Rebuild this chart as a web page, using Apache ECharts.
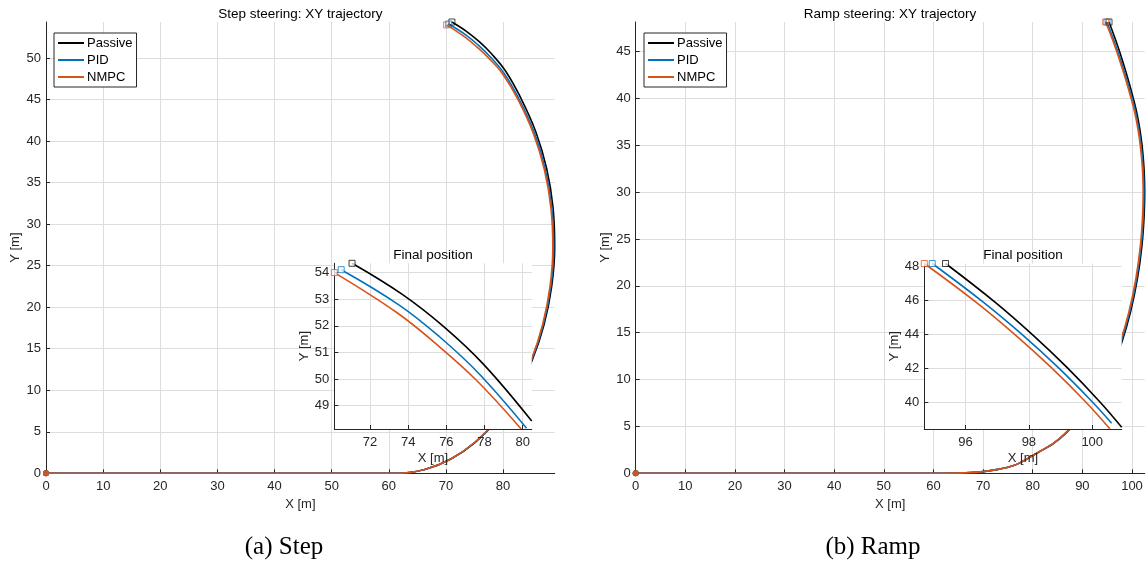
<!DOCTYPE html>
<html>
<head>
<meta charset="utf-8">
<script src="https://cdn.jsdelivr.net/npm/echarts@6/dist/echarts.min.js"></script>
<style>
  html, body { margin: 0; padding: 0; background: #fff; }
  #chart { width: 1148px; height: 565px; }
</style>
</head>
<body>
<div id="chart"></div>
<script>
// Vehicle trajectories, points are [X m, Y m]

// Step steering manoeuvre
const stepPassive = [
  [0,0],[30,0],[61.6,0],[66.31,0.46],[70.88,1.72],[75.15,3.73],[79.02,6.44],[82.37,9.77],
  [85.11,13.62],[87.18,17.89],[88.51,22.45],[89.05,27.2],[88.76,31.99],[87.65,36.68],
  [85.74,41.14],[83.09,45.23],
  [80.47,48.42],[77.95,50.55],[75.89,51.95],[73.71,53.17],[71.06,54.35]
];
const stepPID = [
  [0,0],[30,0],[61.6,0],[66.31,0.46],[70.87,1.73],[75.14,3.75],[78.99,6.47],[82.33,9.81],
  [85.03,13.67],[87.06,17.94],[88.37,22.48],[88.88,27.2],[88.55,31.95],[87.41,36.6],
  [85.5,41.0],[82.84,45.02],
  [80.2,48.15],[77.71,50.2],[75.67,51.57],[73.53,52.78],[70.49,54.11]
];
const stepNMPC = [
  [0,0],[30,0],[61.6,0],[66.31,0.46],[70.87,1.73],[75.13,3.77],[78.97,6.5],[82.27,9.85],
  [84.96,13.71],[86.95,17.97],[88.23,22.51],[88.72,27.2],[88.39,31.92],[87.25,36.54],
  [85.33,40.9],[82.7,44.91],
  [79.92,48.12],[77.55,49.97],[75.51,51.29],[73.4,52.5],[70.13,54.0]
];

// Ramp steering manoeuvre
const rampPassive = [
  [0,0],[30,0],[55,0],[62,0.01],[66,0.05],[70,0.18],[73,0.42],[76,0.8],[78,1.28],[80,1.9],
  [82,2.5],[84,3.12],[85.1,3.55],[86.3,4.1],[87.5,4.73],[90.57,6.49],[93.32,8.61],[95.77,11.08],
  [97.9,13.9],[99.71,17.22],[101.07,20.68],[102.0,24.27],[102.44,27.42],[102.56,30.07],
  [102.43,32.46],[102.06,34.83],[101.56,36.77],
  [100.93,38.56],[100.23,40.07],[99.21,42.05],[98.12,43.97],[96.95,45.86],[95.37,48.15]
];
const rampPID = [
  [0,0],[30,0],[55,0],[62,0.01],[66,0.05],[70,0.18],[73,0.42],[76,0.8],[78,1.28],[80,1.9],
  [82,2.5],[84,3.13],[85.1,3.57],[86.3,4.13],[87.5,4.77],[90.5,6.53],[93.22,8.66],[95.64,11.13],
  [97.75,13.95],[99.55,17.25],[100.91,20.7],[101.84,24.28],[102.28,27.43],[102.4,30.07],
  [102.26,32.46],[101.87,34.83],[101.36,36.77],
  [100.61,38.8],[99.99,40.07],[98.93,42.05],[97.8,43.97],[96.58,45.86],[94.95,48.15]
];
const rampNMPC = [
  [0,0],[30,0],[55,0],[62,0.01],[66,0.05],[70,0.18],[73,0.42],[76,0.8],[78,1.28],[80,1.9],
  [82,2.51],[84,3.14],[85.1,3.6],[86.3,4.16],[87.5,4.81],[90.43,6.58],[93.12,8.72],[95.5,11.2],
  [97.6,14.0],[99.4,17.28],[100.76,20.72],[101.69,24.3],[102.13,27.44],[102.25,30.07],
  [102.1,32.46],[101.7,34.83],[101.18,36.77],
  [100.56,38.46],[99.78,40.07],[98.71,42.05],[97.57,43.97],[96.35,45.86],[94.70,48.15]
];

// Number of final samples shown in the "Final position" close-ups
const stepInsetSamples = 5;
const rampInsetSamples = 6;

const seriesNames = ['Passive', 'PID', 'NMPC'];
const seriesColors = ['#000000', '#0072BD', '#D95319'];

// Tick values
const stepXTicks = [0, 10, 20, 30, 40, 50, 60, 70, 80];
const stepYTicks = [0, 5, 10, 15, 20, 25, 30, 35, 40, 45, 50];
const stepInsetXTicks = [72, 74, 76, 78, 80];
const stepInsetYTicks = [49, 50, 51, 52, 53, 54];
const rampXTicks = [0, 10, 20, 30, 40, 50, 60, 70, 80, 90, 100];
const rampYTicks = [0, 5, 10, 15, 20, 25, 30, 35, 40, 45];
const rampInsetXTicks = [96, 98, 100];
const rampInsetYTicks = [40, 42, 44, 46, 48];

const panelTitles = ['Step steering: XY trajectory', 'Ramp steering: XY trajectory'];
const insetTitle = 'Final position';
const captions = ['(a) Step', '(b) Ramp'];

const FONT = '"Liberation Sans", Arial, Helvetica, sans-serif';
const AXIS_COLOR = '#262626';
const GRID_COLOR = '#dddddd';

function makeAxis(dim, gridIndex, ticks, opts) {
  const isX = dim === 'x';
  return Object.assign({
    type: 'value',
    gridIndex: gridIndex,
    min: 'dataMin',
    max: 'dataMax',
    scale: true,
    name: isX ? 'X [m]' : 'Y [m]',
    nameLocation: 'middle',
    nameGap: 24,
    nameRotate: isX ? 0 : 90,
    nameTextStyle: { fontFamily: FONT, fontSize: 13, color: AXIS_COLOR },
    axisLine: { show: true, onZero: false, lineStyle: { color: AXIS_COLOR, width: 1 } },
    axisTick: { show: true, inside: true, length: 4, customValues: ticks,
                lineStyle: { color: AXIS_COLOR, width: 1 } },
    axisLabel: { customValues: ticks, fontFamily: FONT, fontSize: 13, color: AXIS_COLOR,
                 margin: isX ? 7 : 5 },
    splitLine: { show: true, lineStyle: { color: GRID_COLOR, width: 1 } },
    z: 0
  }, opts || {});
}

const grids = [
  { left: 46, top: 22, width: 508.7, height: 451.3 },
  { left: 334.3, top: 263.3, width: 197.4, height: 165.7, show: true,
    backgroundColor: '#ffffff', borderWidth: 0, z: 10 },
  { left: 635.7, top: 22, width: 509, height: 451.3 },
  { left: 924.3, top: 263.5, width: 197.4, height: 165.5, show: true,
    backgroundColor: '#ffffff', borderWidth: 0, z: 10 }
];

const xAxes = [
  makeAxis('x', 0, stepXTicks, { nameGap: 25 }),
  makeAxis('x', 1, stepInsetXTicks, { nameGap: 23, z: 11 }),
  makeAxis('x', 2, rampXTicks, { nameGap: 25 }),
  makeAxis('x', 3, rampInsetXTicks, { nameGap: 23, z: 11 })
];
const yAxes = [
  makeAxis('y', 0, stepYTicks, { nameGap: 24 }),
  makeAxis('y', 1, stepInsetYTicks, { nameGap: 22, z: 11 }),
  makeAxis('y', 2, rampYTicks, { nameGap: 24 }),
  makeAxis('y', 3, rampInsetYTicks, { nameGap: 22, z: 11 })
];

const panels = [
  { runs: [stepPassive, stepPID, stepNMPC], main: 0, inset: 1, samples: stepInsetSamples },
  { runs: [rampPassive, rampPID, rampNMPC], main: 2, inset: 3, samples: rampInsetSamples }
];

const series = [];
panels.forEach(function (panel) {
  panel.runs.forEach(function (run, k) {
    const color = seriesColors[k];
    const name = seriesNames[k];
    const lineBase = {
      type: 'line', name: name, color: color, symbol: 'none', showSymbol: false,
      smooth: 0.4, animation: false, silent: true,
      lineStyle: { color: color, width: 1.6 }, itemStyle: { color: color }
    };
    // full trajectory
    series.push(Object.assign({}, lineBase, {
      xAxisIndex: panel.main, yAxisIndex: panel.main, data: run, z: 2
    }));
    // end point
    series.push({
      type: 'scatter', name: name + ' end', xAxisIndex: panel.main, yAxisIndex: panel.main,
      data: [run[run.length - 1]], symbol: 'rect', symbolSize: 6, animation: false, silent: true,
      itemStyle: { color: 'rgba(255,255,255,0)', borderColor: color, borderWidth: 1, opacity: 0.7 },
      emphasis: { disabled: true }, z: 3
    });
    // close-up of the final samples
    const tail = run.slice(-panel.samples);
    series.push(Object.assign({}, lineBase, {
      xAxisIndex: panel.inset, yAxisIndex: panel.inset, data: tail, z: 12
    }));
    series.push({
      type: 'scatter', name: name + ' end', xAxisIndex: panel.inset, yAxisIndex: panel.inset,
      data: [tail[tail.length - 1]], symbol: 'rect', symbolSize: 6, animation: false, silent: true,
      itemStyle: { color: '#ffffff', borderColor: color, borderWidth: 1, opacity: 0.75 },
      emphasis: { disabled: true }, z: 13
    });
  });
  // start points, drawn in run order so the last run sits on top
  series.push({
    type: 'scatter', name: 'start', xAxisIndex: panel.main, yAxisIndex: panel.main,
    data: panel.runs.map(function (run, k) {
      return { value: run[0], itemStyle: { color: seriesColors[k] } };
    }),
    symbol: 'circle', symbolSize: 6, animation: false, silent: true, clip: false,
    itemStyle: { opacity: 1 }, emphasis: { disabled: true }, z: 6
  });
});

function legendAt(left) {
  return {
    data: seriesNames, orient: 'vertical', left: left, top: 33,
    padding: [3, 4, 3, 4], itemGap: 3, itemWidth: 26, itemHeight: 2, icon: 'rect',
    backgroundColor: '#ffffff', borderColor: AXIS_COLOR, borderWidth: 1, borderRadius: 0,
    selectedMode: false,
    textStyle: { fontFamily: FONT, fontSize: 13, color: '#000', lineHeight: 14, padding: [0, 0, 0, -2] },
    z: 20
  };
}

function label(text, x, y, size, family, z) {
  return {
    type: 'text', x: x, y: y, z: z || 30, silent: true,
    style: { text: text, fontFamily: family || FONT, fontSize: size, fill: '#000',
             textAlign: 'center', textVerticalAlign: 'middle' }
  };
}

const chart = echarts.init(document.getElementById('chart'), null, { renderer: 'canvas' });
chart.setOption({
  animation: false,
  backgroundColor: '#ffffff',
  grid: grids,
  xAxis: xAxes,
  yAxis: yAxes,
  legend: [legendAt(54), legendAt(644)],
  series: series,
  graphic: [
    label(panelTitles[0], 300.3, 14, 13.5),
    label(panelTitles[1], 890, 14, 13.5),
    label(insetTitle, 433, 255, 13.5),
    label(insetTitle, 1023, 255, 13.5),
    label(captions[0], 284, 547, 25, '"Liberation Serif", "DejaVu Serif", serif'),
    label(captions[1], 873, 547, 25, '"Liberation Serif", "DejaVu Serif", serif')
  ]
});
</script>
</body>
</html>
